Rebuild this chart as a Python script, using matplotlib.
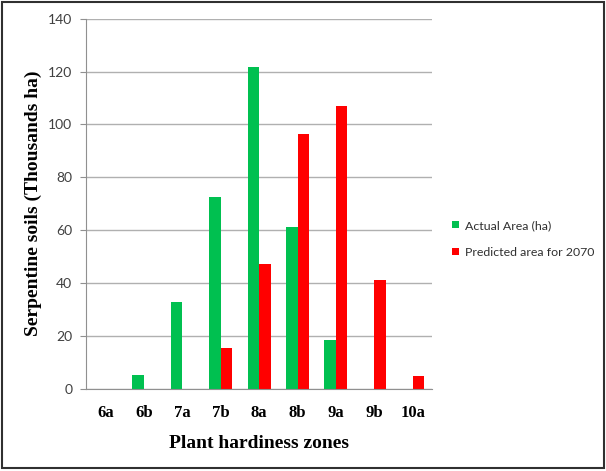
import numpy as np
from matplotlib import pyplot as plt

zones = ['6a', '6b', '7a', '7b', '8a', '8b', '9a', '9b', '10a']
actual_area = [0, 5, 32.6, 72.6, 121.9, 61, 18.4, 0, 0]
predicted_2070 = [0, 0, 0, 15.3, 47.2, 96.4, 106.9, 41.2, 4.9]

fig = plt.figure(figsize=(6.06, 4.71), dpi=100)
ax = fig.add_axes([0.142, 0.175, 0.571, 0.785])

x = np.arange(len(zones))
w = 0.3
ax.bar(x - w / 2, actual_area, w, color='#00c050', label='Actual Area (ha)')
ax.bar(x + w / 2, predicted_2070, w, color='#ff0000', label='Predicted area for 2070')

ax.set_xlim(-0.5, len(zones) - 0.5)
ax.set_ylim(0, 140)
ax.set_yticks(range(0, 141, 20))
ax.yaxis.grid(True, color='#b0b0b0', linewidth=1)
ax.set_axisbelow(True)
for s in ['top', 'right']:
    ax.spines[s].set_visible(False)
ax.spines['left'].set_color('#909090')
ax.spines['bottom'].set_color('#909090')
ax.tick_params(axis='y', length=4, color='#909090', labelsize=10, labelcolor='#404040', pad=6)
ax.tick_params(axis='x', length=0, pad=12)
for t in ax.get_yticklabels():
    t.set_fontfamily('Lato')

ax.set_xticks(x)
ax.set_xticklabels(zones, fontfamily='Liberation Serif', fontweight='bold', fontsize=12)
ax.set_xlabel('Plant hardiness zones', fontfamily='Liberation Serif', fontweight='bold',
              fontsize=14, labelpad=10)
ax.set_ylabel('Serpentine soils (Thousands ha)', fontfamily='Liberation Serif',
              fontweight='bold', fontsize=14, labelpad=4)

ax.legend(loc='center left', bbox_to_anchor=(1.025, 0.405), frameon=False,
          prop={'family': 'Lato', 'size': 8.9},
          handlelength=0.6, handleheight=0.6, handletextpad=0.5, labelspacing=1.3,
          labelcolor='#303030')

fig.patches.append(plt.Rectangle((0.004, 0.006), 0.992, 0.99, transform=fig.transFigure,
                                 fill=False, edgecolor='#303030', linewidth=1.5))

fig.savefig('out.png', dpi=100)
